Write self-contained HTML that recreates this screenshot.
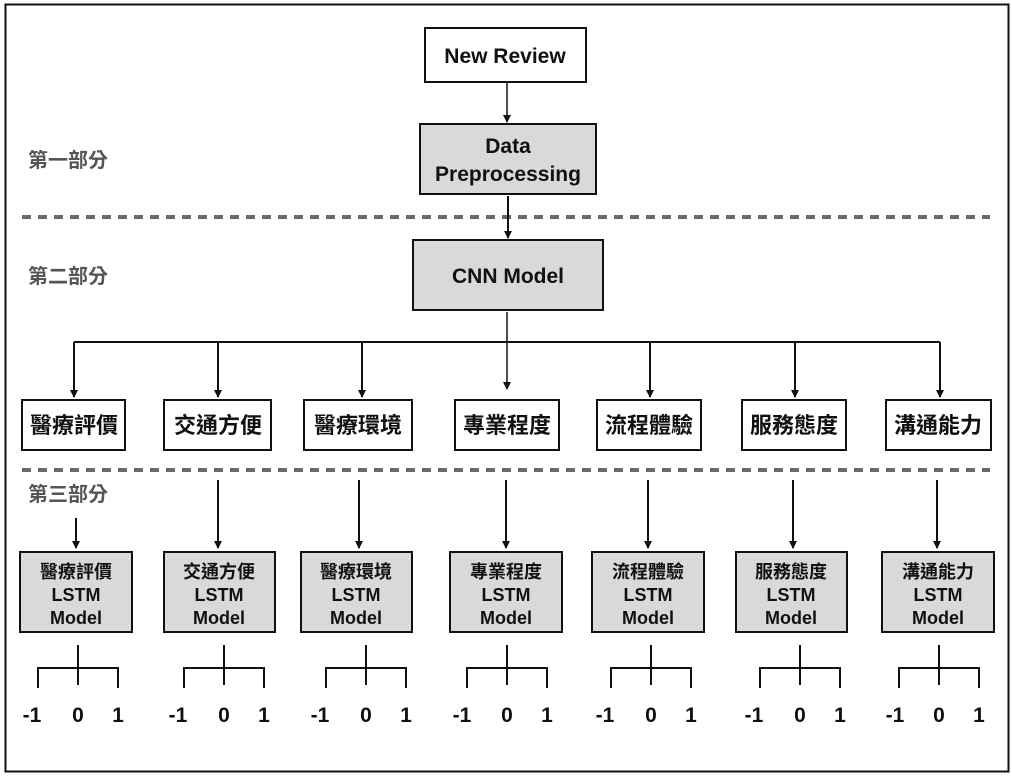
<!DOCTYPE html>
<html><head><meta charset="utf-8"><style>
html,body{margin:0;padding:0;background:#fff;}
svg{display:block;}
text{font-family:"Liberation Sans","Noto Sans CJK TC",sans-serif;font-weight:bold;fill:#111;text-anchor:middle;}
.g{fill:#555;font-weight:bold;text-anchor:start;}
</style></head><body>
<svg width="1012" height="777" viewBox="0 0 1012 777" xmlns="http://www.w3.org/2000/svg">
<defs><marker id="a" markerWidth="8" markerHeight="8" refX="7" refY="4" orient="auto" markerUnits="userSpaceOnUse"><path d="M0,0 L8,4 L0,8 z" fill="#111"/></marker></defs>
<rect x="5.5" y="4.5" width="1003" height="767" fill="#fff" stroke="#111" stroke-width="2"/>
<g stroke="#6a6a6a" stroke-width="4" stroke-dasharray="9,7">
<line x1="22" y1="217" x2="990" y2="217"/>
<line x1="22" y1="470" x2="990" y2="470"/>
</g>
<text class="g" x="28" y="167" font-size="20" style="fill:#555">第一部分</text>
<text class="g" x="28" y="283" font-size="20" style="fill:#555">第二部分</text>
<text class="g" x="28" y="501" font-size="20" style="fill:#555">第三部分</text>

<g stroke="#111" stroke-width="2">
<rect x="425" y="28" width="161" height="54" fill="#fff"/>
<rect x="420" y="124" width="176" height="70" fill="#d9d9d9"/>
<rect x="413" y="240" width="190" height="70" fill="#d9d9d9"/>
</g>
<text x="505" y="63" font-size="21">New Review</text>
<text x="508" y="153" font-size="21">Data</text>
<text x="508" y="181" font-size="21">Preprocessing</text>
<text x="508" y="283" font-size="21">CNN Model</text>

<g stroke="#111" stroke-width="1.5" fill="none">
<line x1="507" y1="82" x2="507" y2="122" marker-end="url(#a)"/>
<line x1="508" y1="196" x2="508" y2="238" stroke-width="2" marker-end="url(#a)"/>
<line x1="507" y1="312" x2="507" y2="389" marker-end="url(#a)"/>
<line x1="74" y1="342" x2="940" y2="342" stroke-width="2"/>
</g>
<g stroke="#111" stroke-width="2" fill="none">
<line x1="74" y1="342" x2="74" y2="397" marker-end="url(#a)"/>
<line x1="218" y1="342" x2="218" y2="397" marker-end="url(#a)"/>
<line x1="362" y1="342" x2="362" y2="397" marker-end="url(#a)"/>
<line x1="650" y1="342" x2="650" y2="397" marker-end="url(#a)"/>
<line x1="795" y1="342" x2="795" y2="397" marker-end="url(#a)"/>
<line x1="940" y1="342" x2="940" y2="397" marker-end="url(#a)"/>
</g>

<g stroke="#111" stroke-width="2" fill="#fff">
<rect x="22" y="400" width="103" height="50"/>
<rect x="164" y="400" width="107" height="50"/>
<rect x="304" y="400" width="108" height="50"/>
<rect x="455" y="400" width="104" height="50"/>
<rect x="597" y="400" width="104" height="50"/>
<rect x="742" y="400" width="104" height="50"/>
<rect x="886" y="400" width="105" height="50"/>
</g>
<g font-size="22">
<text x="74" y="433">醫療評價</text>
<text x="218" y="433">交通方便</text>
<text x="358" y="433">醫療環境</text>
<text x="507" y="433">專業程度</text>
<text x="649" y="433">流程體驗</text>
<text x="794" y="433">服務態度</text>
<text x="938" y="433">溝通能力</text>
</g>

<g stroke="#111" stroke-width="2" fill="none">
<line x1="76" y1="518" x2="76" y2="548" marker-end="url(#a)"/>
<line x1="218" y1="480" x2="218" y2="548" marker-end="url(#a)"/>
<line x1="359" y1="480" x2="359" y2="548" marker-end="url(#a)"/>
<line x1="506" y1="480" x2="506" y2="548" marker-end="url(#a)"/>
<line x1="648" y1="480" x2="648" y2="548" marker-end="url(#a)"/>
<line x1="793" y1="480" x2="793" y2="548" marker-end="url(#a)"/>
<line x1="937" y1="480" x2="937" y2="548" marker-end="url(#a)"/>
</g>

<g stroke="#111" stroke-width="2" fill="#d9d9d9">
<rect x="20" y="552" width="112" height="80"/>
<rect x="164" y="552" width="111" height="80"/>
<rect x="301" y="552" width="111" height="80"/>
<rect x="450" y="552" width="112" height="80"/>
<rect x="592" y="552" width="112" height="80"/>
<rect x="736" y="552" width="111" height="80"/>
<rect x="882" y="552" width="112" height="80"/>
</g>
<g font-size="18">
<text x="76" y="578">醫療評價</text><text x="76" y="601">LSTM</text><text x="76" y="624">Model</text>
<text x="219" y="578">交通方便</text><text x="219" y="601">LSTM</text><text x="219" y="624">Model</text>
<text x="356" y="578">醫療環境</text><text x="356" y="601">LSTM</text><text x="356" y="624">Model</text>
<text x="506" y="578">專業程度</text><text x="506" y="601">LSTM</text><text x="506" y="624">Model</text>
<text x="648" y="578">流程體驗</text><text x="648" y="601">LSTM</text><text x="648" y="624">Model</text>
<text x="791" y="578">服務態度</text><text x="791" y="601">LSTM</text><text x="791" y="624">Model</text>
<text x="938" y="578">溝通能力</text><text x="938" y="601">LSTM</text><text x="938" y="624">Model</text>
</g>

<g stroke="#111" stroke-width="2" fill="none">
<path d="M78,645V685 M38,688V668H118V688"/>
<path d="M224,645V685 M184,688V668H264V688"/>
<path d="M366,645V685 M326,688V668H406V688"/>
<path d="M507,645V685 M467,688V668H547V688"/>
<path d="M651,645V685 M611,688V668H691V688"/>
<path d="M800,645V685 M760,688V668H840V688"/>
<path d="M939,645V685 M899,688V668H979V688"/>
</g>
<g font-size="21">
<text x="32" y="722">-1</text><text x="78" y="722">0</text><text x="118" y="722">1</text>
<text x="178" y="722">-1</text><text x="224" y="722">0</text><text x="264" y="722">1</text>
<text x="320" y="722">-1</text><text x="366" y="722">0</text><text x="406" y="722">1</text>
<text x="462" y="722">-1</text><text x="507" y="722">0</text><text x="547" y="722">1</text>
<text x="605" y="722">-1</text><text x="651" y="722">0</text><text x="691" y="722">1</text>
<text x="754" y="722">-1</text><text x="800" y="722">0</text><text x="840" y="722">1</text>
<text x="895" y="722">-1</text><text x="939" y="722">0</text><text x="979" y="722">1</text>
</g>
</svg>
</body></html>
